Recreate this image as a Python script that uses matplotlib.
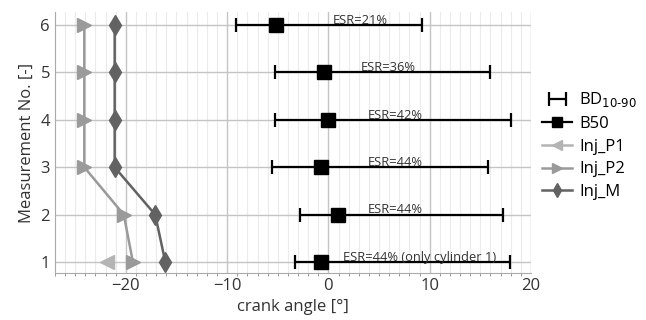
import numpy as np
import matplotlib
matplotlib.use("Agg")
import matplotlib.pyplot as plt
from matplotlib.ticker import MultipleLocator
from matplotlib.lines import Line2D

plt.rcParams['font.family'] = ['Open Sans', 'DejaVu Sans']

meas = [1, 2, 3, 4, 5, 6]
b50 = [-0.7, 0.9, -0.7, 0.0, -0.4, -5.2]
bd10 = [-3.3, -2.8, -5.6, -5.3, -5.3, -9.1]
bd90 = [17.9, 17.2, 15.8, 18.0, 16.0, 9.2]
inj_p1 = [-21.9, np.nan, np.nan, np.nan, np.nan, np.nan]
inj_p2 = [-19.3, -20.2, -24.1, -24.1, -24.1, -24.1]
inj_m = [-16.1, -17.1, -21.1, -21.1, -21.1, -21.1]
esr_labels = ["ESR=44% (only cylinder 1)", "ESR=44%", "ESR=44%",
              "ESR=42%", "ESR=36%", "ESR=21%"]
esr_x = [1.4, 3.9, 3.9, 3.9, 3.2, 0.45]

c_p1, c_p2, c_m = '#b4b4b4', '#9a9a9a', '#626262'

fig = plt.figure(figsize=(6.46, 3.2), dpi=100)
ax = fig.add_axes([0.085, 0.147, 0.737, 0.815])

xerr = [np.array(b50) - np.array(bd10), np.array(bd90) - np.array(b50)]
eb = ax.errorbar(b50, meas, xerr=xerr, fmt='none', ecolor='black',
                 elinewidth=1.6, capsize=5, capthick=1.6, zorder=4)
ax.plot(b50, meas, linestyle='none', marker='s', markersize=10,
        color='black', zorder=5)
ax.plot(inj_p1, meas, marker='<', markersize=10, color=c_p1,
        linewidth=1.8, zorder=3)
ax.plot(inj_p2, meas, marker='>', markersize=10, color=c_p2,
        linewidth=1.8, zorder=3)
ax.plot(inj_m, meas, marker='d', markersize=10, color=c_m,
        linewidth=1.8, zorder=3)

for xv, yv, txt in zip(esr_x, meas, esr_labels):
    ax.text(xv, yv + 0.025, txt, fontsize=9.3, ha='left', va='baseline',
            color='#333333', zorder=6)

ax.set_xlim(-27, 20)
ax.set_ylim(0.77, 6.27)
ax.set_yticks(meas)
ax.xaxis.set_major_locator(MultipleLocator(10))
ax.xaxis.set_minor_locator(MultipleLocator(1))
ax.grid(which='major', color='#c4c4c4', linewidth=1.0)
ax.grid(which='minor', axis='x', color='#ebebeb', linewidth=0.8)
ax.set_axisbelow(True)
ax.tick_params(axis='both', labelsize=12, length=0, colors='#333333')
ax.tick_params(axis='x', which='minor', length=2, color='#888888')
for s in ['top', 'right']:
    ax.spines[s].set_visible(False)
ax.spines['left'].set_color('#aaaaaa')
ax.spines['bottom'].set_color('#aaaaaa')

ax.set_xlabel('crank angle [°]', fontsize=12, color='#333333')
ax.set_ylabel('Measurement No. [-]', fontsize=12, color='#333333')

handles = [
    eb,
    Line2D([], [], color='black', linewidth=1.6, marker='s', markersize=7),
    Line2D([], [], color=c_p1, linewidth=1.8, marker='<', markersize=7),
    Line2D([], [], color=c_p2, linewidth=1.8, marker='>', markersize=7),
    Line2D([], [], color=c_m, linewidth=1.8, marker='d', markersize=7),
]
labels = ['BD$_{10\\text{-}90}$', 'B50', 'Inj_P1', 'Inj_P2', 'Inj_M']
ax.legend(handles, labels, loc='center left', bbox_to_anchor=(1.01, 0.49),
          frameon=False, fontsize=12, handlelength=1.8, labelspacing=0.4,
          handletextpad=0.4, borderaxespad=0.0)

fig.savefig('out.png', dpi=100)
